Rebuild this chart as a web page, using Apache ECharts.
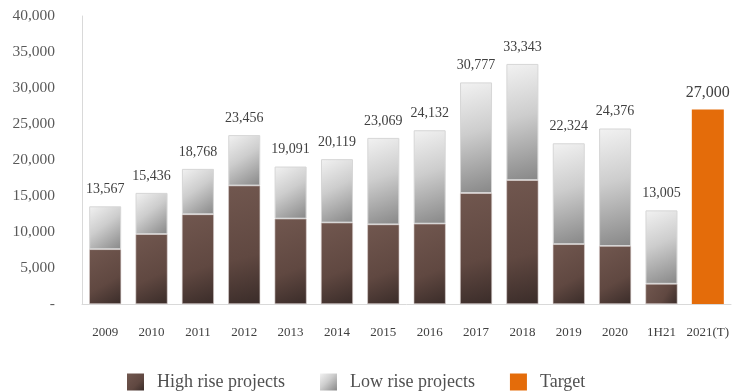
<!doctype html>
<html lang="en">
<head>
    <meta charset="UTF-8">
    <title>High rise / low rise projects</title>
</head>
<body style="margin:0">
    <script src="https://cdn.jsdelivr.net/npm/echarts@6/dist/echarts.min.js"></script>
    <div id="bar" style="width: 739px; height: 392px"></div>

    <script>
        var years = ['2009', '2010', '2011', '2012', '2013', '2014', '2015', '2016', '2017', '2018', '2019', '2020', '1H21', '2021(T)'];
        var highRise = [7600, 9700, 12450, 16450, 11850, 11300, 11050, 11150, 15400, 17200, 8300, 8050, 2800, null];
        var lowRise = [5967, 5736, 6318, 7006, 7241, 8819, 12019, 12982, 15377, 16143, 14024, 16326, 10205, null];
        var totals = [13567, 15436, 18768, 23456, 19091, 20119, 23069, 24132, 30777, 33343, 22324, 24376, 13005, 27000];
        var target = [null, null, null, null, null, null, null, null, null, null, null, null, null, 27000];

        var serif = '"Liberation Serif", "DejaVu Serif", serif';

        var brown = new echarts.graphic.LinearGradient(0, 0, 1, 1, [
            { offset: 0, color: '#71574f' },
            { offset: 0.6, color: '#604841' },
            { offset: 1, color: '#3a2c29' }
        ]);
        var grey = new echarts.graphic.LinearGradient(0, 0, 1, 1, [
            { offset: 0, color: '#f2f2f2' },
            { offset: 0.45, color: '#cdcdcd' },
            { offset: 1, color: '#878787' }
        ]);

        var option = {
            animation: false,
            backgroundColor: '#fff',
            grid: { left: 82, right: 8, top: 16, bottom: 88 },
            legend: {
                left: 122,
                top: 368,
                itemWidth: 17,
                itemHeight: 17,
                itemGap: 35,
                icon: 'rect',
                itemStyle: { borderWidth: 0 },
                textStyle: { fontFamily: serif, fontSize: 18, color: '#505050', padding: [0, 0, 0, 8] },
                data: ['High rise projects', 'Low rise projects', 'Target']
            },
            xAxis: {
                type: 'category',
                data: years,
                axisTick: { show: false },
                axisLine: { lineStyle: { color: '#d9d9d9' } },
                axisLabel: { interval: 0, fontFamily: serif, fontSize: 13, color: '#404040', margin: 22 }
            },
            yAxis: {
                type: 'value',
                min: 0,
                max: 40000,
                interval: 5000,
                splitLine: { show: false },
                axisLine: { show: true, lineStyle: { color: '#d9d9d9' } },
                axisLabel: {
                    fontFamily: serif, fontSize: 15.5, color: '#595959', margin: 27,
                    formatter: function (v) { return v === 0 ? '-' : v.toLocaleString('en-US'); }
                }
            },
            series: [
                {
                    name: 'High rise projects',
                    type: 'bar',
                    stack: 'total',
                    barWidth: 32,
                    data: highRise,
                    itemStyle: { color: brown, borderColor: '#d8cfcc', borderWidth: 0.6 }
                },
                {
                    name: 'Low rise projects',
                    type: 'bar',
                    stack: 'total',
                    barWidth: 32,
                    data: lowRise,
                    itemStyle: { color: grey, borderColor: '#d6d6d6', borderWidth: 1 },
                    label: {
                        show: true,
                        position: 'top',
                        distance: 10,
                        fontFamily: serif,
                        fontSize: 14,
                        color: '#404040',
                        formatter: function (p) { return totals[p.dataIndex].toLocaleString('en-US'); }
                    }
                },
                {
                    name: 'Target',
                    type: 'bar',
                    stack: 'total',
                    barWidth: 32,
                    data: target,
                    itemStyle: { color: '#e46c0a' },
                    label: {
                        show: true,
                        position: 'top',
                        distance: 9,
                        fontFamily: serif,
                        fontSize: 16,
                        color: '#404040',
                        formatter: function (p) { return p.value.toLocaleString('en-US'); }
                    }
                }
            ]
        };

        var chart = echarts.init(document.getElementById('bar'));
        chart.setOption(option);
    </script>
</body>
</html>
